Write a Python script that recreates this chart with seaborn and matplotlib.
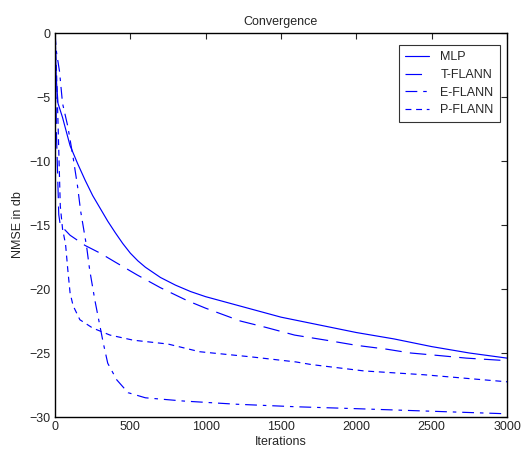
import numpy as np
import pandas as pd
import matplotlib
matplotlib.use('Agg')
import matplotlib.pyplot as plt
import seaborn as sns

# values
mlp_x = [0, 8, 20, 50, 100, 150, 200, 250, 300, 350, 400, 450, 500, 550, 600, 700, 800, 900, 1000, 1250, 1500, 1750, 2000, 2250, 2500, 2750, 3000]
mlp_y = [0, -3.5, -5.5, -6.6, -8.8, -10.2, -11.5, -12.7, -13.7, -14.7, -15.6, -16.45, -17.2, -17.8, -18.3, -19.1, -19.7, -20.2, -20.6, -21.4, -22.2, -22.8, -23.4, -23.9, -24.5, -25.0, -25.4]

tflann_x = [0, 10, 25, 35, 100, 200, 300, 400, 545, 700, 876, 1000, 1230, 1400, 1590, 1800, 2000, 2200, 2360, 2550, 2730, 3000]
tflann_y = [0, -8, -14.2, -15.0, -15.8, -16.6, -17.2, -17.9, -18.9, -19.9, -20.9, -21.5, -22.5, -23.0, -23.6, -24.0, -24.4, -24.7, -25.0, -25.2, -25.4, -25.6]

eflann_x = [0, 10, 30, 50, 85, 120, 150, 170, 210, 230, 265, 300, 320, 350, 410, 485, 600, 850, 1200, 1600, 2000, 2500, 3000]
eflann_y = [0, -1.5, -3.0, -5.5, -7.3, -9.7, -12.0, -13.9, -16.7, -18.5, -20.9, -23.0, -24.2, -25.8, -27.1, -28.1, -28.5, -28.75, -29.0, -29.2, -29.35, -29.55, -29.75]

pflann_x = [0, 10, 20, 35, 50, 70, 85, 100, 120, 165, 250, 365, 520, 750, 960, 1300, 1600, 1700, 2050, 2450, 2850, 3000]
pflann_y = [0, -3, -7, -13.5, -15.3, -16.5, -18.5, -20.3, -21.3, -22.4, -23.05, -23.6, -24.0, -24.3, -24.9, -25.3, -25.7, -25.9, -26.4, -26.7, -27.1, -27.25]

names = ['MLP', 'T-FLANN', 'E-FLANN', 'P-FLANN']
styles = ['-', (0, (14, 7)), (0, (10, 5, 3, 5)), (0, (5, 4))]

sns.set_style('white')
plt.rcParams['font.family'] = ['Liberation Sans', 'DejaVu Sans']

fig, ax = plt.subplots(figsize=(5.28, 4.54), dpi=100)
fig.subplots_adjust(left=55/528, right=507/528, top=1-33/454, bottom=1-417/454)

series = [(mlp_x, mlp_y), (tflann_x, tflann_y), (eflann_x, eflann_y), (pflann_x, pflann_y)]
for (xs, ys), name, ls in zip(series, names, styles):
    sns.lineplot(x=xs, y=ys, ax=ax, color='#0000ff', linewidth=0.85, linestyle=ls, label=name)

ax.set_xlim(0, 3000)
ax.set_ylim(-30, 0)
ax.set_xticks(np.arange(0, 3001, 500))
ax.set_yticks(np.arange(-30, 1, 5))
ax.tick_params(direction='in', top=True, right=True, labelsize=9, length=4, width=0.8, pad=3)
for s in ax.spines.values():
    s.set_linewidth(1.0)
    s.set_color('black')
ax.set_xlabel('Iterations', fontsize=9, labelpad=2)
ax.set_ylabel('NMSE in db', fontsize=9, labelpad=4)
ax.set_title('Convergence', fontsize=9, pad=6)

leg = ax.legend(loc='upper right', fontsize=9, frameon=True, fancybox=False,
                edgecolor='black', handlelength=1.9, handletextpad=0.9, borderpad=0.5,
                labelspacing=0.45, bbox_to_anchor=(0.998, 0.985))
leg.get_frame().set_linewidth(0.8)

fig.savefig('out.png', dpi=100)
